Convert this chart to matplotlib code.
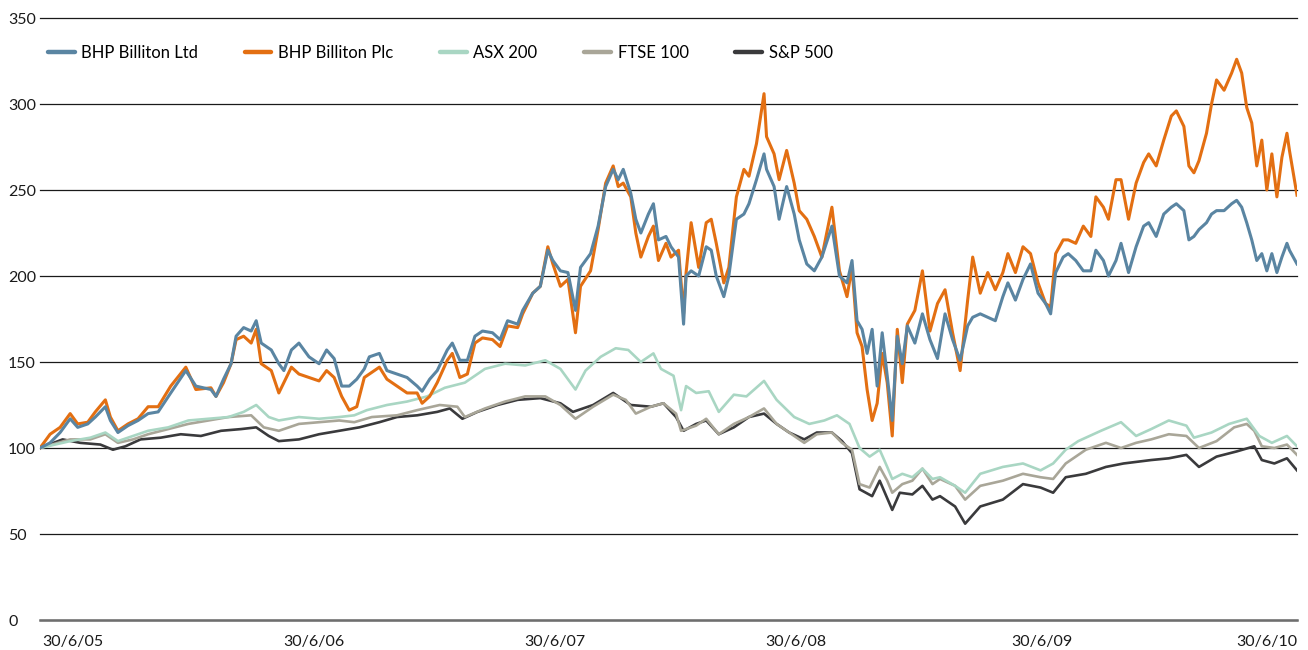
#!/usr/bin/env python3

import matplotlib
matplotlib.use("Agg")
import matplotlib.pyplot as plt

matplotlib.rcParams['font.family'] = ['Lato', 'DejaVu Sans']

# years since 30/6/05 and index values (30/6/05 = 100)
bhp_t = [0.00, 0.04, 0.08, 0.12, 0.15, 0.19, 0.22, 0.26, 0.28, 0.31, 0.35, 0.39,
         0.43, 0.47, 0.52, 0.58, 0.62, 0.68, 0.70, 0.73, 0.76, 0.78, 0.81, 0.84,
         0.86, 0.88, 0.92, 0.95, 0.97, 1.00, 1.03, 1.07, 1.11, 1.14, 1.17, 1.20,
         1.23, 1.26, 1.29, 1.31, 1.35, 1.38, 1.42, 1.46, 1.50, 1.52, 1.55, 1.58,
         1.62, 1.64, 1.67, 1.70, 1.73, 1.76, 1.80, 1.83, 1.86, 1.90, 1.92, 1.96,
         1.99, 2.02, 2.04, 2.07, 2.10, 2.13, 2.15, 2.19, 2.22, 2.25, 2.28, 2.30,
         2.32, 2.35, 2.37, 2.39, 2.42, 2.44, 2.46, 2.49, 2.51, 2.54, 2.56, 2.57,
         2.59, 2.62, 2.65, 2.67, 2.69, 2.72, 2.74, 2.77, 2.80, 2.82, 2.85, 2.88,
         2.89, 2.92, 2.94, 2.97, 3.00, 3.02, 3.05, 3.08, 3.11, 3.15, 3.18, 3.21,
         3.23, 3.25, 3.27, 3.29, 3.31, 3.33, 3.35, 3.37, 3.39, 3.41, 3.43, 3.45,
         3.48, 3.51, 3.54, 3.57, 3.60, 3.63, 3.66, 3.69, 3.71, 3.74, 3.77, 3.80,
         3.83, 3.85, 3.88, 3.91, 3.94, 3.97, 4.00, 4.02, 4.04, 4.07, 4.09, 4.12,
         4.15, 4.18, 4.20, 4.23, 4.25, 4.28, 4.30, 4.33, 4.36, 4.39, 4.41, 4.44,
         4.47, 4.50, 4.52, 4.55, 4.57, 4.59, 4.61, 4.64, 4.66, 4.68, 4.71, 4.74,
         4.76, 4.78, 4.80, 4.82, 4.84, 4.86, 4.88, 4.90, 4.92, 4.94, 4.96, 4.97,
         5.00]
bhp_ltd = [100, 103, 109, 117, 112, 114, 118, 124, 116, 109, 113, 116,
           120, 121, 132, 145, 136, 134, 130, 140, 149, 165, 170, 168,
           174, 161, 157, 149, 145, 157, 161, 153, 149, 157, 152, 136,
           136, 140, 146, 153, 155, 145, 143, 141, 136, 133, 140, 145,
           157, 161, 151, 151, 165, 168, 167, 163, 174, 172, 180, 190,
           194, 215, 209, 203, 202, 180, 205, 213, 229, 252, 262, 256,
           262, 248, 233, 225, 236, 242, 221, 223, 217, 211, 172, 200,
           203, 200, 217, 215, 200, 188, 200, 233, 236, 242, 256, 271,
           262, 252, 233, 252, 236, 221, 207, 203, 211, 229, 200, 196,
           209, 174, 169, 155, 169, 136, 167, 142, 116, 165, 149, 171,
           161, 178, 163, 152, 178, 163, 151, 171, 176, 178, 176, 174,
           188, 196, 186, 198, 207, 190, 184, 178, 202, 211, 213, 209,
           203, 203, 215, 209, 200, 209, 219, 202, 217, 229, 231, 223,
           236, 240, 242, 238, 221, 223, 227, 231, 236, 238, 238, 242,
           244, 240, 231, 221, 209, 213, 203, 213, 202, 211, 219, 215,
           207]
bhp_plc = [100, 108, 112, 120, 114, 115, 121, 128, 118, 110, 114, 117,
           124, 124, 136, 147, 134, 135, 130, 138, 149, 163, 165, 161,
           169, 149, 145, 132, 138, 147, 143, 141, 139, 145, 141, 130,
           122, 124, 141, 143, 147, 140, 136, 132, 132, 126, 130, 138,
           151, 155, 141, 143, 161, 164, 163, 159, 171, 170, 178, 190,
           194, 217, 207, 194, 198, 167, 194, 203, 227, 254, 264, 252,
           254, 246, 225, 211, 223, 229, 209, 219, 211, 215, 178, 202,
           231, 205, 231, 233, 219, 196, 205, 246, 262, 258, 277, 306,
           281, 271, 256, 273, 254, 238, 233, 223, 211, 240, 203, 188,
           205, 167, 159, 134, 116, 126, 155, 138, 107, 169, 138, 172,
           180, 203, 168, 184, 192, 167, 145, 186, 211, 190, 202, 192,
           202, 213, 202, 217, 213, 196, 184, 182, 213, 221, 221, 219,
           229, 223, 246, 240, 233, 256, 256, 233, 254, 266, 271, 264,
           279, 293, 296, 287, 264, 260, 267, 283, 300, 314, 308, 318,
           326, 318, 298, 289, 264, 279, 250, 271, 246, 269, 283, 273,
           247]

asx_t = [0.00, 0.06, 0.12, 0.20, 0.26, 0.31, 0.37, 0.43, 0.51, 0.59, 0.67, 0.75,
         0.81, 0.86, 0.91, 0.95, 1.03, 1.11, 1.19, 1.25, 1.30, 1.38, 1.46, 1.54,
         1.61, 1.69, 1.77, 1.85, 1.93, 2.01, 2.07, 2.13, 2.17, 2.23, 2.29, 2.34,
         2.39, 2.44, 2.47, 2.52, 2.55, 2.57, 2.61, 2.66, 2.70, 2.76, 2.81, 2.88,
         2.93, 3.00, 3.06, 3.12, 3.17, 3.22, 3.26, 3.30, 3.34, 3.37, 3.39, 3.43,
         3.47, 3.51, 3.55, 3.58, 3.64, 3.68, 3.74, 3.83, 3.91, 3.98, 4.03, 4.08,
         4.13, 4.22, 4.30, 4.36, 4.42, 4.49, 4.56, 4.59, 4.66, 4.73, 4.80, 4.85,
         4.90, 4.96, 5.00]
asx_200 = [100, 102, 104, 106, 109, 104, 107, 110, 112, 116, 117, 118,
           121, 125, 118, 116, 118, 117, 118, 119, 122, 125, 127, 130,
           135, 138, 146, 149, 148, 151, 146, 134, 145, 153, 158, 157,
           150, 155, 146, 142, 122, 136, 132, 133, 121, 131, 130, 139,
           128, 118, 114, 116, 119, 114, 100, 95, 99, 89, 82, 85,
           83, 88, 82, 83, 78, 74, 85, 89, 91, 87, 91, 99,
           104, 110, 115, 107, 111, 116, 113, 106, 109, 114, 117, 107,
           103, 107, 101]

ftse_t = [0.00, 0.12, 0.20, 0.26, 0.31, 0.37, 0.43, 0.51, 0.59, 0.67, 0.75, 0.84,
          0.89, 0.95, 1.03, 1.11, 1.19, 1.25, 1.32, 1.42, 1.50, 1.59, 1.66, 1.69,
          1.77, 1.85, 1.93, 2.01, 2.07, 2.13, 2.20, 2.28, 2.33, 2.37, 2.43, 2.48,
          2.53, 2.55, 2.61, 2.65, 2.70, 2.76, 2.82, 2.88, 2.93, 2.98, 3.04, 3.09,
          3.15, 3.19, 3.23, 3.26, 3.30, 3.34, 3.37, 3.39, 3.43, 3.47, 3.51, 3.55,
          3.58, 3.64, 3.68, 3.74, 3.83, 3.91, 3.98, 4.03, 4.08, 4.16, 4.24, 4.30,
          4.36, 4.42, 4.49, 4.56, 4.61, 4.68, 4.75, 4.80, 4.83, 4.86, 4.91, 4.96,
          5.00]
ftse_100 = [100, 105, 105, 108, 103, 105, 108, 111, 114, 116, 118, 119,
            112, 110, 114, 115, 116, 115, 118, 119, 122, 125, 124, 118,
            123, 127, 130, 130, 125, 117, 124, 131, 128, 120, 124, 126,
            120, 110, 113, 117, 108, 114, 118, 123, 114, 109, 103, 108,
            109, 103, 99, 79, 77, 89, 81, 74, 79, 81, 88, 79,
            82, 78, 70, 78, 81, 85, 83, 82, 91, 99, 103, 100,
            103, 105, 108, 107, 100, 104, 112, 114, 110, 101, 100, 102,
            96]

sp_t = [0.00, 0.09, 0.16, 0.24, 0.29, 0.34, 0.40, 0.48, 0.56, 0.64, 0.72, 0.80,
        0.86, 0.91, 0.95, 1.03, 1.11, 1.19, 1.27, 1.35, 1.42, 1.50, 1.58, 1.63,
        1.68, 1.74, 1.82, 1.90, 1.99, 2.07, 2.12, 2.20, 2.28, 2.35, 2.43, 2.48,
        2.53, 2.56, 2.61, 2.65, 2.70, 2.76, 2.82, 2.88, 2.93, 2.98, 3.04, 3.09,
        3.15, 3.19, 3.23, 3.26, 3.31, 3.34, 3.39, 3.42, 3.47, 3.51, 3.55, 3.58,
        3.64, 3.68, 3.74, 3.83, 3.91, 3.98, 4.03, 4.08, 4.16, 4.24, 4.31, 4.42,
        4.49, 4.56, 4.61, 4.68, 4.76, 4.83, 4.86, 4.91, 4.96, 5.00]
sp_500 = [100, 105, 103, 102, 99, 101, 105, 106, 108, 107, 110, 111,
          112, 107, 104, 105, 108, 110, 112, 115, 118, 119, 121, 123,
          117, 121, 125, 128, 129, 126, 121, 125, 132, 125, 124, 126,
          118, 110, 114, 116, 108, 112, 118, 120, 114, 109, 105, 109,
          109, 104, 97, 76, 72, 81, 64, 74, 73, 78, 70, 72,
          66, 56, 66, 70, 79, 77, 74, 83, 85, 89, 91, 93,
          94, 96, 89, 95, 98, 101, 93, 91, 94, 87]

tick_pos = [0.01, 0.967, 1.925, 2.884, 3.865, 5.0]
tick_labels = ["30/6/05", "30/6/06", "30/6/07", "30/6/08", "30/6/09", "30/6/10"]

# colours
c_ltd = "#5a85a2"
c_plc = "#e36f12"
c_asx = "#a9d6c3"
c_ftse = "#a9a698"
c_sp = "#3a3a3c"

fig = plt.figure(figsize=(13.08, 6.5), dpi=100)
ax = fig.add_axes([40 / 1308, 30 / 650, 1257 / 1308, 602 / 650])

l_sp, = ax.plot(sp_t, sp_500, color=c_sp, lw=1.9, label="S&P 500")
l_ftse, = ax.plot(ftse_t, ftse_100, color=c_ftse, lw=1.9, label="FTSE 100")
l_asx, = ax.plot(asx_t, asx_200, color=c_asx, lw=1.9, label="ASX 200")
l_plc, = ax.plot(bhp_t, bhp_plc, color=c_plc, lw=2.2, label="BHP Billiton Plc")
l_ltd, = ax.plot(bhp_t, bhp_ltd, color=c_ltd, lw=2.2, label="BHP Billiton Ltd")

ax.set_xlim(0, 5)
ax.set_ylim(0, 350)
ax.set_yticks(range(0, 351, 50))
ax.set_xticks(tick_pos)
ax.set_xticklabels(tick_labels)
for lab in ax.get_xticklabels():
  lab.set_horizontalalignment('left')
ax.get_xticklabels()[-1].set_horizontalalignment('right')

ax.tick_params(axis='both', length=0, labelsize=11.5, colors='#1a1a1a')
ax.tick_params(axis='x', pad=10.5)
ax.tick_params(axis='y', pad=23)
for lab in ax.get_yticklabels():
  lab.set_horizontalalignment('left')

# horizontal rules only, the zero line is grey and heavier
ax.grid(axis='y', color='#1a1a1a', lw=0.9)
ax.grid(axis='x', visible=False)
for line in ax.get_ygridlines():
  line.set_clip_on(False)
ax.set_axisbelow(True)
for side in ['top', 'right', 'left']:
  ax.spines[side].set_visible(False)
ax.spines['bottom'].set_color('#6e6e6e')
ax.spines['bottom'].set_linewidth(1.8)

ax.legend(handles=[l_ltd, l_plc, l_asx, l_ftse, l_sp],
          ncol=5,
          frameon=False,
          loc='upper left',
          bbox_to_anchor=(0.001, 0.967),
          fontsize=12,
          handlelength=1.6,
          handletextpad=0.4,
          columnspacing=2.8,
          borderaxespad=0)
for h in ax.get_legend().get_lines():
  h.set_linewidth(3.2)
  h.set_solid_capstyle('round')

fig.savefig("out.png", dpi=100)
